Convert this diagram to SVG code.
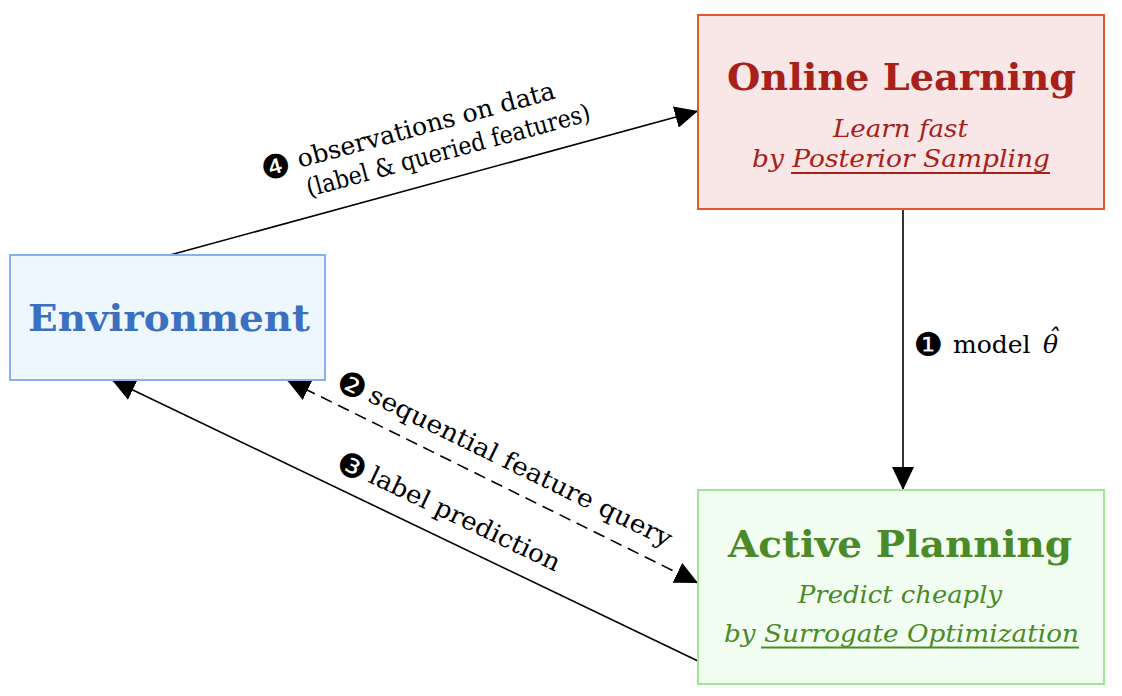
<svg xmlns="http://www.w3.org/2000/svg" width="1122" height="696" viewBox="0 0 1122 696">
<defs>
<marker id="ah" markerUnits="userSpaceOnUse" markerWidth="24" markerHeight="22" refX="23" refY="11" orient="auto-start-reverse">
<path d="M0,0 L23,11 L0,22 z" fill="#000"/>
</marker>
<style>
.txt{font-family:"DejaVu Serif","Noto Serif","Liberation Serif",serif;}
.lbl{font-family:"DejaVu Serif","DejaVu Sans","Liberation Serif",serif;font-size:25px;fill:#000;}
.dg{font-family:"DejaVu Sans",sans-serif;font-size:33px;fill:#000;}
.head{font-size:37px;font-weight:bold;text-anchor:middle;}
.sub{font-size:25px;font-style:italic;text-anchor:middle;}
.conn{stroke:#000;stroke-width:1.6;fill:none;}
</style>
</defs>
<rect width="1122" height="696" fill="#ffffff"/>
<g id="connectors">
<line class="conn" x1="170" y1="255" x2="698" y2="111" marker-end="url(#ah)"/>
<line class="conn" x1="903" y1="209" x2="903" y2="490" marker-end="url(#ah)"/>
<line class="conn" x1="287" y1="380" x2="698" y2="583" stroke-dasharray="12 7" marker-start="url(#ah)" marker-end="url(#ah)"/>
<line class="conn" x1="698" y1="661" x2="112" y2="380" marker-end="url(#ah)"/>
<g transform="translate(267,176.6) rotate(-15.15)">
<text class="dg" x="-3.8" y="4.1">❹</text>
<text class="lbl" x="34" y="0" textLength="266" lengthAdjust="spacingAndGlyphs">observations on data</text>
</g>
<text class="lbl" transform="translate(450.5,158.5) rotate(-15.15)" text-anchor="middle" textLength="293" lengthAdjust="spacingAndGlyphs">(label &amp; queried features)</text>
<text class="dg" x="913.7" y="356">❶</text>
<text class="lbl" y="353"><tspan x="953">model</tspan><tspan x="1043" font-style="italic">θ</tspan><tspan x="1047" y="346" font-style="italic">ˆ</tspan></text>
<g transform="translate(339,387) rotate(26.1)">
<text class="dg" x="-3.8" y="4.1">❷</text>
<text class="lbl" x="31" y="0" textLength="334" lengthAdjust="spacingAndGlyphs">sequential feature query</text>
</g>
<g transform="translate(339,468) rotate(25.6)">
<text class="dg" x="-3.8" y="4.1">❸</text>
<text class="lbl" x="31" y="0" textLength="209" lengthAdjust="spacingAndGlyphs">label prediction</text>
</g>
</g>
<g id="online-learning">
<rect x="698" y="15" width="406" height="194" fill="#f8e7e6" stroke="#e0582c" stroke-width="2"/>
<text class="txt head" x="901.5" y="90" fill="#a8201a" textLength="349" lengthAdjust="spacingAndGlyphs">Online Learning</text>
<text class="txt sub" x="900.5" y="137" fill="#a8201a" textLength="135" lengthAdjust="spacingAndGlyphs">Learn fast</text>
<text class="txt sub" x="901" y="167" fill="#a8201a" textLength="298" lengthAdjust="spacingAndGlyphs">by Posterior Sampling</text>
<line x1="791" y1="173" x2="1050" y2="173" stroke="#a8201a" stroke-width="2"/>
</g>
<g id="environment">
<rect x="10" y="255" width="315" height="125" fill="#eef6fe" stroke="#8aaef0" stroke-width="2"/>
<text class="txt head" x="169" y="331" fill="#3b70bf" textLength="282" lengthAdjust="spacingAndGlyphs">Environment</text>
</g>
<g id="active-planning">
<rect x="698" y="490" width="406" height="194" fill="#f2fef1" stroke="#9de993" stroke-width="2"/>
<text class="txt head" x="900" y="557" fill="#4a8b29" textLength="344" lengthAdjust="spacingAndGlyphs">Active Planning</text>
<text class="txt sub" x="900" y="603" fill="#4a8b29" textLength="204" lengthAdjust="spacingAndGlyphs">Predict cheaply</text>
<text class="txt sub" x="901.5" y="642" fill="#4a8b29" textLength="355" lengthAdjust="spacingAndGlyphs">by Surrogate Optimization</text>
<line x1="761" y1="647.5" x2="1079" y2="647.5" stroke="#4a8b29" stroke-width="2"/>
</g>
</svg>
